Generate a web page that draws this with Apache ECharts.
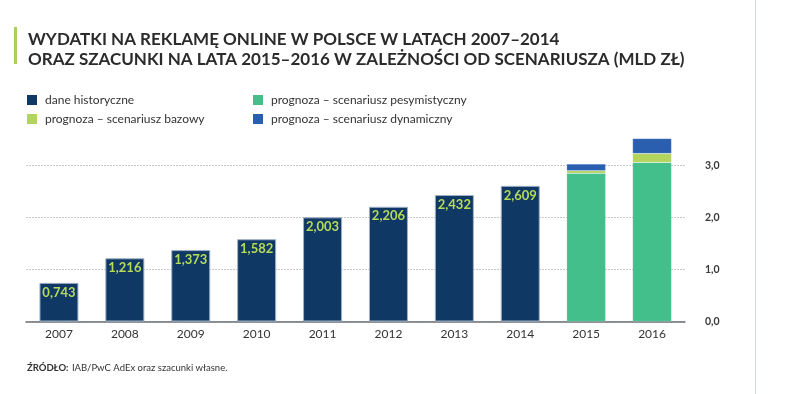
<!DOCTYPE html>
<html><head><meta charset="utf-8">
<script src="https://cdn.jsdelivr.net/npm/echarts@6/dist/echarts.min.js"></script>
<style>html,body{margin:0;padding:0;background:#fff}#c{width:791px;height:394px}</style>
</head><body><div id="c"></div>
<script>
const categories = ['2007','2008','2009','2010','2011','2012','2013','2014','2015','2016'];
const historical = [0.743,1.216,1.373,1.582,2.003,2.206,2.432,2.609,null,null];
const pessimistic = [null,null,null,null,null,null,null,null,2.85,3.06];
const baseIncrement = [null,null,null,null,null,null,null,null,0.05,0.17];
const dynamicIncrement = [null,null,null,null,null,null,null,null,0.13,0.29];
const yTicks = [0,1,2,3];

const FONT = 'Lato, "Noto Sans", sans-serif';
const chart = echarts.init(document.getElementById('c'), null, {renderer:'canvas'});
const border = {borderColor:'#9fb0c6', borderWidth:1};
const lightBorder = {borderColor:'rgba(255,255,255,0.35)', borderWidth:0.5};
const legendCommon = {orient:'vertical', itemWidth:10, itemHeight:10, itemGap:7, icon:'rect', itemStyle:{borderWidth:0}, textStyle:{fontSize:12, color:'#333', fontFamily:FONT, padding:[0,0,0,3]}};
chart.setOption({
  animation:false,
  textStyle:{fontFamily:FONT},
  graphic:[
    {type:'rect', shape:{x:14,y:27,width:3,height:37}, style:{fill:'#a9d05b'}},
    {type:'line', shape:{x1:755.5,y1:0,x2:755.5,y2:394}, style:{stroke:'#d3dbe4',lineWidth:1}},
    {type:'text', left:28, top:30, style:{text:'WYDATKI NA REKLAMĘ ONLINE W POLSCE W LATACH 2007–2014\nORAZ SZACUNKI NA LATA 2015–2016 W ZALEŻNOŚCI OD SCENARIUSZA (MLD ZŁ)', font:'bold 17px '+FONT, fill:'#2b2b2b', lineHeight:20}},
    {type:'text', left:27, top:362, style:{rich:{b:{font:'bold 9.5px '+FONT, fill:'#333'}, n:{font:'9.5px '+FONT, fill:'#333'}}, text:'{b|ŹRÓDŁO:} {n|IAB/PwC AdEx oraz szacunki własne.}'}}
  ],
  legend:[
    Object.assign({left:22, top:89, data:['dane historyczne','prognoza – scenariusz bazowy']}, legendCommon),
    Object.assign({left:248, top:89, data:['prognoza – scenariusz pesymistyczny','prognoza – scenariusz dynamiczny']}, legendCommon)
  ],
  grid:{left:26, right:106, top:134.3, bottom:72.5},
  xAxis:{type:'category', data:categories, axisLine:{lineStyle:{color:'#6b7075', width:1.5}}, axisTick:{show:false}, axisLabel:{color:'#333', fontSize:12, margin:7, fontFamily:FONT}},
  yAxis:{type:'value', position:'right', min:0, max:3.6, interval:1,
    axisLine:{show:false}, axisTick:{show:false},
    axisLabel:{showMaxLabel:false, margin:20, color:'#3a3a3a', fontSize:10.5, fontWeight:'bold', fontFamily:FONT, formatter:v=> yTicks.includes(v) ? v.toFixed(1).replace('.',',') : ''},
    splitLine:{lineStyle:{type:[2,1], color:['#c8c8c8','#c8c8c8','#c8c8c8','#c8c8c8','rgba(0,0,0,0)'], width:1}}},
  series:[
    {name:'dane historyczne', type:'bar', stack:'t', barWidth:39, data:historical, itemStyle:Object.assign({color:'#0f3864'},border),
      label:{show:true, position:'insideTop', distance:3, color:'#b6da5a', fontWeight:'bold', fontSize:13, fontFamily:FONT, formatter:p=>p.value.toFixed(3).replace('.',',')}},
    {name:'prognoza – scenariusz pesymistyczny', type:'bar', stack:'t', barWidth:39, data:pessimistic, itemStyle:Object.assign({color:'#42bf8b'},lightBorder)},
    {name:'prognoza – scenariusz bazowy', type:'bar', stack:'t', barWidth:39, data:baseIncrement, itemStyle:Object.assign({color:'#b3d45c'},lightBorder)},
    {name:'prognoza – scenariusz dynamiczny', type:'bar', stack:'t', barWidth:39, data:dynamicIncrement, itemStyle:Object.assign({color:'#2a5fb0'},lightBorder)}
  ]
});
</script></body></html>
